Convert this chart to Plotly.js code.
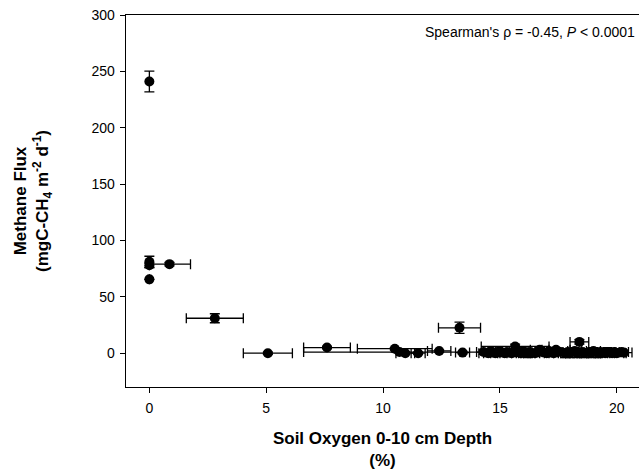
<!DOCTYPE html>
<html>
<head>
<meta charset="utf-8">
<script src="https://cdn.plot.ly/plotly-3.0.1.min.js"></script>
<style>html,body{margin:0;padding:0;background:#fff;}#chart{width:639px;height:470px;}</style>
</head>
<body>
<div id="chart"></div>
<script>
// Soil oxygen (%) at 0-10 cm depth
const oxygen = [0, 0, 0, 0, 0.86, 2.8, 5.07, 7.6, 10.5, 10.7, 10.95, 11.5, 12.4, 13.27, 13.4,
  14.3, 14.5, 14.6, 14.8, 14.9, 15.0, 15.2, 15.3, 15.5, 15.65, 15.8, 15.9, 16.0, 16.2, 16.3, 16.5,
  16.7, 16.8, 17.0, 17.1, 17.3, 17.4, 17.6, 17.8, 17.9, 18.0, 18.2, 18.3, 18.4, 18.5, 18.6, 18.8,
  18.9, 19.0, 19.2, 19.3, 19.5, 19.6, 19.8, 19.9, 20.0, 20.2, 20.3];
const oxygenErr = [0, 0, 0, 0, 0.9, 1.22, 1.05, 1.0, 1.6, 4.1, 0.4, 0.3, 0.5, 0.9, 0.3,
  0.3, 0.4, 0.3, 0.5, 0.2, 0.4, 0.6, 0.3, 0.5, 1.45, 0.3, 0.4, 0.2, 0.5, 0.3, 0.6,
  0.4, 0.3, 0.5, 0.2, 0.4, 0.6, 0.3, 0.5, 0.2, 0.4, 0.3, 0.5, 0.4, 0.3, 0.6, 0.2,
  0.4, 0.3, 0.5, 0.2, 0.4, 0.3, 0.5, 0.2, 0.4, 0.3, 0.35];
// Methane flux (mgC-CH4 m-2 d-1)
const methane = [241, 81, 78, 65.5, 79, 31, 0, 5, 4, 1, 0, 0, 2, 22.5, 0.5,
  1, 0, 2, 0, 1, 2, 0, 1, 0, 6, 1, 0, 2, 0, 1, 0,
  3, 1, 0, 2, 0, 3, 1, 0, 1, 0, 2, 0, 10, 1, 0, 1,
  0, 2, 0, 1, 0, 1, 0, 1, 0, 1, 0.5];
const methaneErr = [9.2, 5, 2, 0, 1.5, 4, 1, 1, 1, 1, 1, 1, 1, 5, 1,
  2, 3, 2, 3, 2, 2, 3, 2, 3, 2, 2, 3, 2, 4, 2, 3,
  2, 3, 3, 2, 3, 2, 3, 4, 3, 4, 3, 4, 2, 3, 4, 3,
  4, 3, 4, 3, 3, 4, 3, 3, 3, 2, 2];
const xTicks = [0, 5, 10, 15, 20];
const yTicks = [0, 50, 100, 150, 200, 250, 300];

const trace = {
  x: oxygen,
  y: methane,
  type: 'scatter',
  mode: 'markers',
  marker: {color: '#000', size: 10},
  error_x: {type: 'data', array: oxygenErr, visible: true, color: '#000', thickness: 1.3, width: 5},
  error_y: {type: 'data', array: methaneErr, visible: true, color: '#000', thickness: 1.3, width: 5},
  showlegend: false,
  cliponaxis: false
};

const tickFont = {family: 'Liberation Sans, Arial, sans-serif', size: 14, color: '#000'};
const titleFont = {family: 'Liberation Sans, Arial, sans-serif', size: 17, color: '#000', weight: 'bold'};

const layout = {
  width: 639,
  height: 470,
  margin: {l: 126, r: 0, t: 15, b: 83},
  paper_bgcolor: '#fff',
  plot_bgcolor: '#fff',
  xaxis: {
    range: [-1, 20.95],
    tickvals: xTicks,
    ticktext: xTicks.map(String),
    ticks: 'outside', ticklen: 5, tickwidth: 1, tickcolor: '#000',
    ticklabelstandoff: 3,
    showline: true, linecolor: '#000', linewidth: 1.3, mirror: true,
    showgrid: false, zeroline: false,
    tickfont: tickFont,
    title: {text: '<b>Soil Oxygen 0-10 cm Depth</b><br><b>(%)</b>', font: titleFont, standoff: 18}
  },
  yaxis: {
    range: [-30, 300],
    tickvals: yTicks,
    ticktext: yTicks.map(String),
    ticks: 'outside', ticklen: 5, tickwidth: 1, tickcolor: '#000',
    ticklabelstandoff: 2,
    showline: true, linecolor: '#000', linewidth: 1.3, mirror: false,
    showgrid: false, zeroline: false,
    tickfont: tickFont,
    title: {text: '<b>Methane Flux</b><br><b>(mgC-CH<sub>4</sub> m<sup>-2</sup> d<sup>-1</sup>)</b>', font: titleFont, standoff: 38}
  },
  annotations: [{
    xref: 'paper', yref: 'paper', x: 1, y: 1,
    xanchor: 'right', yanchor: 'top', xshift: -2, yshift: -7,
    showarrow: false,
    text: "Spearman's ρ = -0.45, <i>P</i> < 0.0001",
    font: {family: 'Liberation Sans, Arial, sans-serif', size: 14, color: '#000'}
  }]
};

Plotly.newPlot('chart', [trace], layout, {displayModeBar: false, staticPlot: true});
</script>
</body>
</html>
